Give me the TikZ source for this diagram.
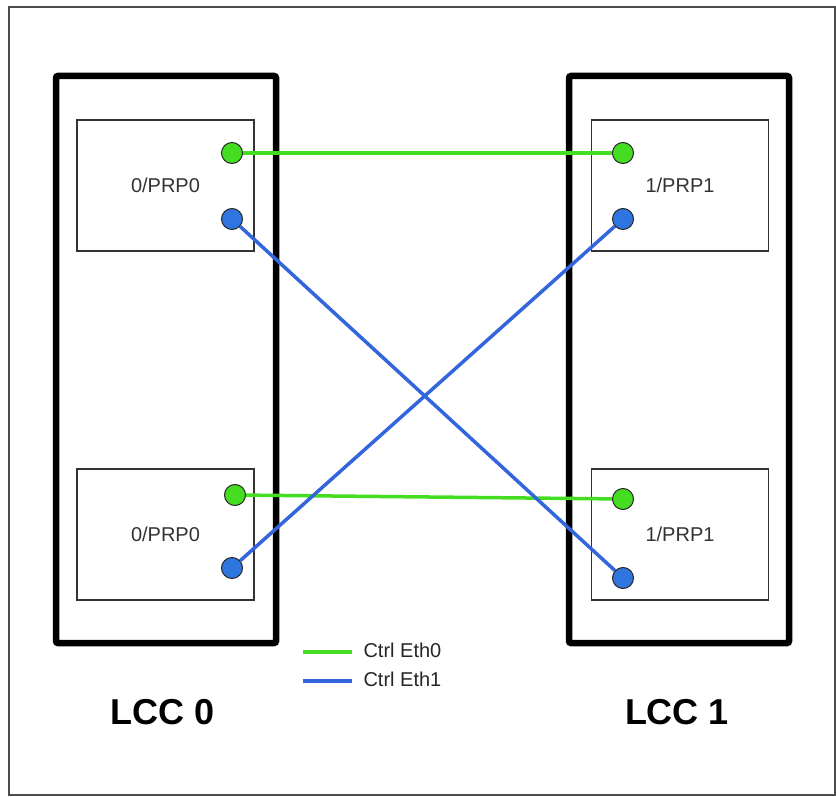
\documentclass[tikz,border=0pt]{standalone}
\usepackage{fontspec}
\setmainfont{Liberation Sans}
\definecolor{ethgreen}{RGB}{68,221,34}
\definecolor{ethblue}{RGB}{51,102,221}
\begin{document}
\begin{tikzpicture}[
        x=1pt, y=-1pt,
        rack/.style={draw, line width=6.5pt, rounded corners=2pt, minimum width=220pt, minimum height=567pt},
        card/.style={draw=black!80, line width=1.1pt, fill=white, minimum width=177pt, minimum height=131pt, font=\fontsize{20}{23}\selectfont, text=black!80},
        port/.style={circle, draw=black!85, line width=1pt, minimum size=21pt, inner sep=0pt},
        gport/.style={port, fill=ethgreen},
        bport/.style={port, fill=ethblue!90!cyan},
        eth0/.style={ethgreen, line width=3.5pt},
        eth1/.style={ethblue, line width=3.5pt},
        legtext/.style={anchor=west, font=\fontsize{20}{23}\selectfont, text=black!85},
        lcc/.style={font=\fontsize{36}{40}\selectfont\bfseries}
    ]
        \useasboundingbox (0,0) rectangle (836,797);
        \draw[black!70, line width=1.5pt] (9,7) rectangle (835,795);
        % racks
        \node[rack] (rack0) at (166,359.5) {};
        \node[rack] (rack1) at (679,359.5) {};
        % cards
        \node[card] (card0a) at (165.5,185.5) {0/PRP0};
        \node[card] (card0b) at (165.5,534.5) {0/PRP0};
        \node[card] (card1a) at (680,185.5) {1/PRP1};
        \node[card] (card1b) at (680,534.5) {1/PRP1};
        % ports
        \node[gport] (g0a) at (232,153) {};
        \node[bport] (b0a) at (232,219) {};
        \node[gport] (g0b) at (235,495) {};
        \node[bport] (b0b) at (232,568) {};
        \node[gport] (g1a) at (623,153) {};
        \node[bport] (b1a) at (623,219) {};
        \node[gport] (g1b) at (623,499) {};
        \node[bport] (b1b) at (623,578) {};
        % links
        \draw[eth0] (g0a) -- (g1a);
        \draw[eth0] (g0b) -- (g1b);
        \draw[eth1] (b0a) -- (b1b);
        \draw[eth1] (b0b) -- (b1a);
        % legend
        \coordinate (leg0s) at (303,652);
        \coordinate (leg0e) at (352,652);
        \coordinate (leg1s) at (303,681);
        \coordinate (leg1e) at (352,681);
        \draw[eth0] (leg0s) -- (leg0e);
        \draw[eth1] (leg1s) -- (leg1e);
        \node[legtext] (leg0) at (360,650) {Ctrl Eth0};
        \node[legtext] (leg1) at (360,679) {Ctrl Eth1};
        % labels
        \node[lcc] (lcc0) at (163,712) {LCC 0};
        \node[lcc] (lcc1) at (677,712) {LCC 1};
\end{tikzpicture}
\end{document}
